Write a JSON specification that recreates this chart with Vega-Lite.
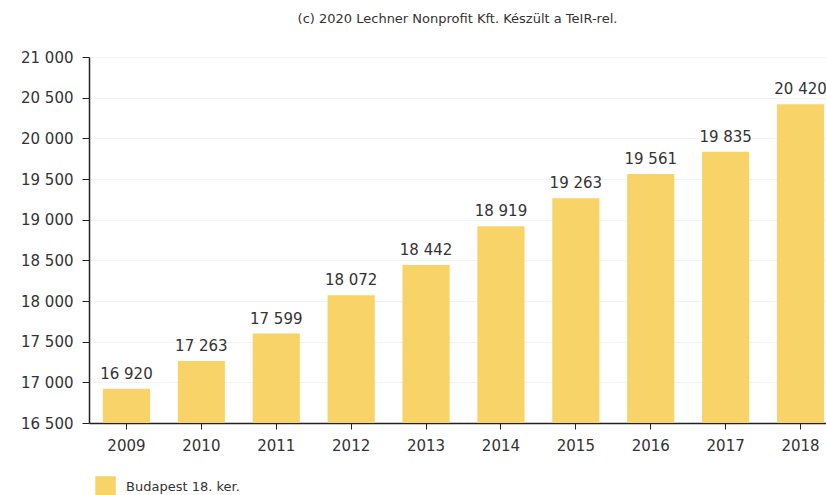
{
  "$schema": "https://vega.github.io/schema/vega-lite/v6.json",
  "autosize": {"type": "none"},
  "width": 737,
  "height": 366,
  "padding": {"left": 89, "top": 57, "right": 0, "bottom": 72},
  "background": "white",
  "title": {
    "text": "(c) 2020 Lechner Nonprofit Kft. Készült a TeIR-rel.",
    "font": "DejaVu Sans",
    "fontSize": 13,
    "fontWeight": "normal",
    "color": "#333333",
    "anchor": "middle",
    "offset": 24
  },
  "config": {
    "locale": {"number": {"decimal": ",", "thousands": " ", "grouping": [3], "currency": ["", " Ft"]}},
    "font": "DejaVu Sans",
    "view": {"stroke": null}
  },
  "data": {
    "values": [
      {"year": "2009", "value": 16920, "area": "Budapest 18. ker."},
      {"year": "2010", "value": 17263, "area": "Budapest 18. ker."},
      {"year": "2011", "value": 17599, "area": "Budapest 18. ker."},
      {"year": "2012", "value": 18072, "area": "Budapest 18. ker."},
      {"year": "2013", "value": 18442, "area": "Budapest 18. ker."},
      {"year": "2014", "value": 18919, "area": "Budapest 18. ker."},
      {"year": "2015", "value": 19263, "area": "Budapest 18. ker."},
      {"year": "2016", "value": 19561, "area": "Budapest 18. ker."},
      {"year": "2017", "value": 19835, "area": "Budapest 18. ker."},
      {"year": "2018", "value": 20420, "area": "Budapest 18. ker."}
    ]
  },
  "encoding": {
    "x": {
      "field": "year",
      "type": "nominal",
      "sort": null,
      "scale": {"range": [0, 749], "paddingInner": 0.37, "paddingOuter": 0.185},
      "axis": {
        "title": null,
        "labelAngle": 0,
        "labelFontSize": 15,
        "labelColor": "#333333",
        "labelPadding": 9,
        "tickSize": 6,
        "tickColor": "#222222",
        "domainColor": "#222222",
        "domainWidth": 1.5,
        "grid": false
      }
    },
    "y": {
      "field": "value",
      "type": "quantitative",
      "scale": {"domain": [16500, 21000], "zero": false, "nice": false},
      "axis": {
        "title": null,
        "values": [16500, 17000, 17500, 18000, 18500, 19000, 19500, 20000, 20500, 21000],
        "format": ",d",
        "labelFontSize": 15,
        "labelColor": "#333333",
        "labelPadding": 9,
        "tickSize": 7,
        "tickColor": "#222222",
        "domainColor": "#222222",
        "domainWidth": 1.5,
        "grid": true,
        "gridColor": "#f1f2f4",
        "gridWidth": 1
      }
    }
  },
  "layer": [
    {
      "mark": {"type": "bar", "clip": true},
      "encoding": {
        "y2": {"datum": 16500},
        "color": {
          "field": "area",
          "type": "nominal",
          "scale": {"range": ["#F8D468"]},
          "legend": {
            "title": null,
            "orient": "none",
            "legendX": 6,
            "legendY": 419,
            "symbolType": "square",
            "symbolSize": 420,
            "symbolStrokeWidth": 0,
            "labelFontSize": 13,
            "labelColor": "#333333",
            "labelOffset": 10
          }
        }
      }
    },
    {
      "mark": {"type": "text", "dy": -10, "baseline": "alphabetic", "fontSize": 15, "color": "#333333"},
      "encoding": {
        "text": {"field": "value", "type": "quantitative", "format": ",d"}
      }
    }
  ]
}
